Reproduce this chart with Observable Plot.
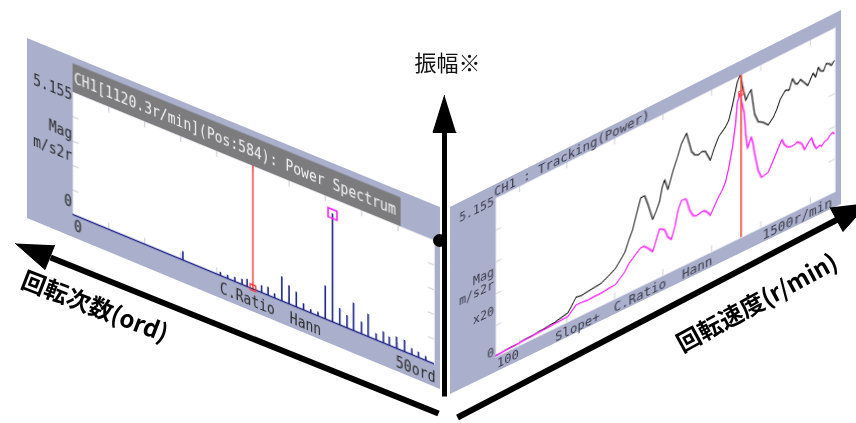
<!DOCTYPE html>
<html><head><meta charset="utf-8">
<script src="https://cdn.jsdelivr.net/npm/d3@7"></script>
<script src="https://cdn.jsdelivr.net/npm/@observablehq/plot@0.6"></script>
<style>
html,body{margin:0;padding:0;background:#fff;width:856px;height:423px;overflow:hidden}
#stage{position:relative;width:856px;height:423px;overflow:hidden}
.panel{position:absolute;left:0;top:0;transform-origin:0 0}
.panel svg{display:block;max-width:none}
</style></head><body><div id="stage"></div>
<script>
// ---------------- DATA ----------------
// Left panel: power spectrum at 1120.3 r/min (order domain 0–50 ord)
const spikeOrd = [15.3, 20.5, 21.5, 22.5, 23.5, 24.2, 26.2, 27.1, 28.0, 29.0, 30.0, 31.0, 32.0, 33.0, 34.0, 35.0, 36.0, 37.0, 38.0, 38.9, 40.0, 40.9, 42.0, 43.0, 43.8, 44.8, 45.9, 46.9, 47.8, 48.8];
const spikeMag = [0.35, 0.13, 0.13, 0.17, 0.21, 0.30, 0.28, 0.33, 0.17, 1.00, 0.75, 0.61, 0.25, 0.13, 0.15, 1.37, 4.52, 0.68, 0.51, 1.14, 0.49, 0.93, 0.25, 0.45, 0.34, 0.46, 0.46, 0.24, 0.21, 0.16];
const cursorOrd = 25;
const cursorOrdMag = 0.05;
const peakOrd = 36.0;
const peakOrdMag = 4.52;
const ordTicks = [5, 10, 15, 20, 25, 30, 35, 40, 45];
const magTicks = [1.031, 2.062, 3.093, 4.124];
const magMax = 5.155;

// Right panel: tracking (power) vs rotation speed 100–1500 r/min
const overallRpm = [100,150,200,250,300,350,404,420,438,460,488,515,542,575,604,620,642,660,675,690,708,725,740,758,772,786,797,807,821,842,860,876,897,918,932,946,960,974,995,1010,1029,1057,1070,1085,1105,1115,1120,1126,1140,1150,1161,1175,1190,1210,1230,1251,1265,1279,1300,1315,1328,1340,1349,1360,1370,1390,1400,1411,1422,1432,1442,1453,1464,1474,1485,1495];
const overallMag = [0.05,0.08,0.10,0.13,0.16,0.20,0.30,0.46,0.67,0.64,0.67,0.70,0.72,0.85,0.98,1.13,1.34,1.70,1.96,2.37,2.84,2.84,2.47,1.96,2.17,2.42,2.84,3.04,2.68,3.20,3.56,3.92,4.18,3.51,3.35,3.30,3.35,3.30,2.94,3.25,3.56,3.76,3.92,4.33,5.00,5.155,5.10,4.79,4.28,4.43,4.54,3.71,3.41,3.31,3.15,3.31,3.51,3.77,3.98,3.92,4.23,4.03,3.98,4.08,3.98,3.77,3.92,4.08,3.92,4.18,4.03,3.98,4.18,4.13,4.03,4.13];
const orderRpm = [100,200,300,404,438,460,488,515,542,575,604,620,642,660,675,690,708,722,740,758,772,786,797,807,821,835,850,862,876,890,897,911,925,939,953,967,981,995,1010,1029,1043,1057,1070,1085,1098,1105,1115,1126,1133,1140,1147,1155,1161,1168,1175,1190,1203,1217,1230,1244,1258,1272,1286,1296,1307,1321,1335,1346,1356,1367,1377,1391,1405,1415,1425,1436,1446,1457,1467,1478,1488,1495];
const orderMag = [0.05,0.09,0.13,0.18,0.42,0.42,0.39,0.41,0.41,0.44,0.46,0.57,0.72,0.93,1.03,1.13,1.24,1.24,1.10,0.93,1.24,1.55,1.50,1.44,1.15,1.03,1.40,1.85,2.11,2.11,2.05,1.65,1.44,1.39,1.42,1.44,1.35,1.19,1.40,1.65,1.80,2.01,2.40,2.99,3.70,4.33,4.59,4.18,3.92,3.15,2.73,2.90,3.04,2.84,2.47,1.85,1.60,1.62,1.65,1.85,2.06,2.27,2.47,2.27,2.16,2.11,2.11,2.16,2.11,2.01,1.80,1.95,2.06,1.80,1.65,1.70,1.65,1.75,1.75,1.85,1.91,1.85];
const cursorRpm = 1120.3;
const cursorRpmMag = 4.59;
const rpmTicks = [200, 400, 600, 800, 1000, 1200, 1400];

// Text
const leftTitle = "CH1[1120.3r/min](Pos:584): Power Spectrum";
const leftYTexts = ["5.155", "Mag", "m/s2r", "0"];
const leftXTexts = ["0", "C.Ratio", "Hann", "50ord"];
const rightTitle = "CH1 : Tracking(Power)";
const rightYTexts = ["5.155", "Mag", "m/s2r", "x20", "0"];
const rightXTexts = ["100", "Slope+", "C.Ratio", "Hann", "1500r/min"];
const axisLabels = ["振幅※", "回転次数(ord)", "回転速度(r/min)"];

// ---------------- LAYOUT ----------------
const GRAY = "#aab0cc", NAVY = "#1c2386", RED = "#ff2f2f", MAG = "#ff22ff";
const MONO = "DejaVu Sans Mono";
const JP = "Noto Sans CJK JP";

function quadTransform(w, h, q) {
  const [x0,y0]=q[0],[x1,y1]=q[1],[x2,y2]=q[2],[x3,y3]=q[3];
  const dx1=x1-x2, dx2=x3-x2, dx3=x0-x1+x2-x3, dy1=y1-y2, dy2=y3-y2, dy3=y0-y1+y2-y3;
  let a,b,c,d,e,f,g,k;
  if (Math.abs(dx3)<1e-9 && Math.abs(dy3)<1e-9) { a=x1-x0; b=x2-x1; c=x0; d=y1-y0; e=y2-y1; f=y0; g=0; k=0; }
  else {
    const det=dx1*dy2-dx2*dy1;
    g=(dx3*dy2-dx2*dy3)/det; k=(dx1*dy3-dx3*dy1)/det;
    a=x1-x0+g*x1; b=x3-x0+k*x3; c=x0; d=y1-y0+g*y1; e=y3-y0+k*y3; f=y0;
  }
  return `matrix3d(${a/w},${d/w},0,${g/w},${b/h},${e/h},0,${k/h},0,0,1,0,${c},${f},0,1)`;
}

function label(t, fl, ft, px, py, anchor, size, fill) {
  return Plot.text([t], {frameAnchor: "top-left", dx: px - fl, dy: py - ft, textAnchor: anchor,
    lineAnchor: "middle", fontSize: size, fontFamily: MONO, fill});
}

const stage = document.getElementById("stage");
function mount(svg, w, h, quad) {
  const div = document.createElement("div");
  div.className = "panel";
  div.style.width = w + "px"; div.style.height = h + "px";
  div.style.transform = quadTransform(w, h, quad);
  div.appendChild(svg);
  stage.appendChild(div);
  return div;
}

// ---- Left panel ----
{
  const W = 413, H = 180, ML = 46, MT = 35, MR = 6, MB = 23;
  const spikes = spikeOrd.map((o, i) => ({ord: o, mag: spikeMag[i]}));
  const fw = W - ML - MR, fh = H - MT - MB;
  const tickC = "#c8c9d2";
  const yPos = [[45, 39, "end"], [45, 78, "end"], [45, 100, "end"], [45, 146, "end"]];
  const xPos = [[47, 168, "start"], [221, 170, "middle"], [279, 171, "middle"], [408, 171, "end"]];
  const svg = Plot.plot({
    width: W, height: H, marginLeft: ML, marginTop: MT, marginRight: MR, marginBottom: MB,
    style: {background: GRAY, overflow: "visible"},
    x: {domain: [0, 50], axis: null},
    y: {domain: [0, magMax], axis: null},
    marks: [
      Plot.frame({fill: "#fff", stroke: "#e4e5ee"}),
      Plot.ruleX(ordTicks, {insetTop: fh - 6, stroke: tickC}),
      Plot.ruleX(ordTicks, {insetBottom: fh - 6, stroke: tickC}),
      Plot.ruleY(magTicks, {insetRight: fw - 6, stroke: tickC}),
      Plot.ruleY(magTicks, {insetLeft: fw - 6, stroke: tickC}),
      Plot.ruleX([cursorOrd], {stroke: RED, strokeWidth: 1.3}),
      Plot.ruleY([0], {stroke: NAVY, strokeWidth: 1.6}),
      Plot.ruleX(spikes, {x: "ord", y1: () => 0, y2: "mag", stroke: NAVY, strokeWidth: 1.6}),
      Plot.dot([cursorOrd], {x: d => d, y: () => cursorOrdMag, symbol: "square", r: 3.2, stroke: RED, strokeWidth: 1.3}),
      Plot.dot([peakOrd], {x: d => d, y: () => peakOrdMag, symbol: "square", r: 5, stroke: MAG, strokeWidth: 1.6}),
      Plot.text([leftTitle], {frameAnchor: "top-left", dx: 1, dy: 21 - MT, textAnchor: "start", lineAnchor: "middle",
        fontSize: 15, fontFamily: MONO, fill: "#f3f3f3"}),
      ...leftYTexts.map((t, i) => label(t, ML, MT, yPos[i][0], yPos[i][1], yPos[i][2], 15, "#2a2a2a")),
      ...leftXTexts.map((t, i) => label(t, ML, MT, xPos[i][0], xPos[i][1], xPos[i][2], 15, "#2a2a2a"))
    ]
  });
  const firstText = svg.querySelector('g[aria-label="text"]');
  const bar = document.createElementNS("http://www.w3.org/2000/svg", "rect");
  bar.setAttribute("x", ML); bar.setAttribute("y", 6.5); bar.setAttribute("width", 328); bar.setAttribute("height", 28.5);
  bar.setAttribute("fill", "#7c7c7e");
  firstText.parentNode.insertBefore(bar, firstText);
  mount(svg, W, H, [[27, 38], [440, 207], [440, 389], [27, 218]]);
  svg.querySelectorAll("text").forEach(el => {
    const L = el.getComputedTextLength();
    if (L > 0) { el.setAttribute("textLength", (L * 0.87).toFixed(1)); el.setAttribute("lengthAdjust", "spacingAndGlyphs"); }
  });
}

// ---- Right panel ----
{
  const W = 391, H = 187, ML = 47, MT = 14, MR = 6, MB = 15;
  const overall = overallRpm.map((r, i) => ({rpm: r, mag: overallMag[i]}));
  const order = orderRpm.map((r, i) => ({rpm: r, mag: orderMag[i]}));
  const fw = W - ML - MR, fh = H - MT - MB;
  const tickC = "#cfd0d8";
  const yPos = [[45, 16], [45, 86], [45, 99], [45, 125], [45, 166]];
  const xPos = [[48, 179, "start"], [130, 181, "middle"], [193, 180, "middle"], [250, 180, "middle"], [382, 180, "end"]];
  const svg = Plot.plot({
    width: W, height: H, marginLeft: ML, marginTop: MT, marginRight: MR, marginBottom: MB,
    style: {background: GRAY, overflow: "visible"},
    x: {domain: [100, 1500], axis: null},
    y: {domain: [0, magMax], axis: null},
    marks: [
      Plot.frame({fill: "#fff", stroke: "#e4e5ee"}),
      Plot.ruleX(rpmTicks, {insetTop: fh - 6, stroke: tickC}),
      Plot.ruleX(rpmTicks, {insetBottom: fh - 6, stroke: tickC}),
      Plot.ruleY(magTicks, {insetRight: fw - 6, stroke: tickC}),
      Plot.ruleY(magTicks, {insetLeft: fw - 6, stroke: tickC}),
      Plot.line(overall, {x: "rpm", y: "mag", stroke: "#1e1e1e", strokeWidth: 1.2}),
      Plot.line(order, {x: "rpm", y: "mag", stroke: MAG, strokeWidth: 1.4}),
      Plot.ruleX([cursorRpm], {stroke: "#ff4a3a", strokeWidth: 1.6}),
      Plot.dot([cursorRpm], {x: d => d, y: () => cursorRpmMag, symbol: "square", r: 2.6, stroke: "#ff4a3a", strokeWidth: 1.2}),
      Plot.text([rightTitle], {frameAnchor: "top-left", dx: -2, dy: 7 - MT, textAnchor: "start", lineAnchor: "middle",
        fontSize: 12.5, fontFamily: MONO, fill: "#3a3a48"}),
      ...rightYTexts.map((t, i) => label(t, ML, MT, yPos[i][0], yPos[i][1], "end", 12, "#3a3a48")),
      ...rightXTexts.map((t, i) => label(t, ML, MT, xPos[i][0], xPos[i][1], xPos[i][2], 12.5, "#3a3a48"))
    ]
  });
  mount(svg, W, H, [[450, 207], [841, 10], [841, 204], [450, 394]]);
}

// ---- Overlay: axes arrows and labels ----
{
  const shafts = [
    {id: "v", w: 5, pts: [[444, 128], [444, 396]]},
    {id: "l", w: 6, pts: [[50, 257], [438, 413]]},
    {id: "r", w: 6, pts: [[457, 417], [837, 219]]}
  ];
  const heads = [
    {id: "v", pts: [[444, 95], [432.5, 132], [455.5, 132]]},
    {id: "l", pts: [[15, 243], [44.5, 269], [54.1, 244.7]]},
    {id: "r", pts: [[868, 202.4], [842.5, 231], [829.5, 207]]}
  ];
  const shaftRows = shafts.flatMap(s => s.pts.map(p => ({id: s.id, w: s.w, x: p[0], y: p[1]})));
  const headRows = heads.flatMap(s => s.pts.map(p => ({id: s.id, x: p[0], y: p[1]})));
  const svg = Plot.plot({
    width: 856, height: 423, margin: 0,
    style: {background: "transparent", overflow: "visible"},
    x: {type: "identity", axis: null}, y: {type: "identity", axis: null},
    marks: [
      Plot.dot([[439, 240]], {x: d => d[0], y: d => d[1], r: 6.5, fill: "#000"}),
      ...shafts.map(s => Plot.line(shaftRows.filter(d => d.id === s.id), {x: "x", y: "y", stroke: "#000", strokeWidth: s.w, strokeLinecap: "butt"})),
      Plot.line(headRows, {x: "x", y: "y", z: "id", fill: "#000", stroke: "#000", strokeWidth: 1, strokeLinejoin: "miter"}),
      Plot.text([axisLabels[0]], {x: () => 447, y: () => 63, fontSize: 22, fontFamily: JP, fill: "#111", lineAnchor: "middle"}),
      Plot.text([axisLabels[1]], {x: () => 94, y: () => 307, rotate: 21, fontSize: 24, fontWeight: "bold", fontFamily: JP, fill: "#000", lineAnchor: "middle"}),
      Plot.text([axisLabels[2]], {x: () => 757, y: () => 303, rotate: -28.5, fontSize: 24, fontWeight: "bold", fontFamily: JP, fill: "#000", lineAnchor: "middle"})
    ]
  });
  const div = document.createElement("div");
  div.className = "panel";
  div.style.pointerEvents = "none";
  div.appendChild(svg);
  stage.appendChild(div);
}
</script>
</body></html>
